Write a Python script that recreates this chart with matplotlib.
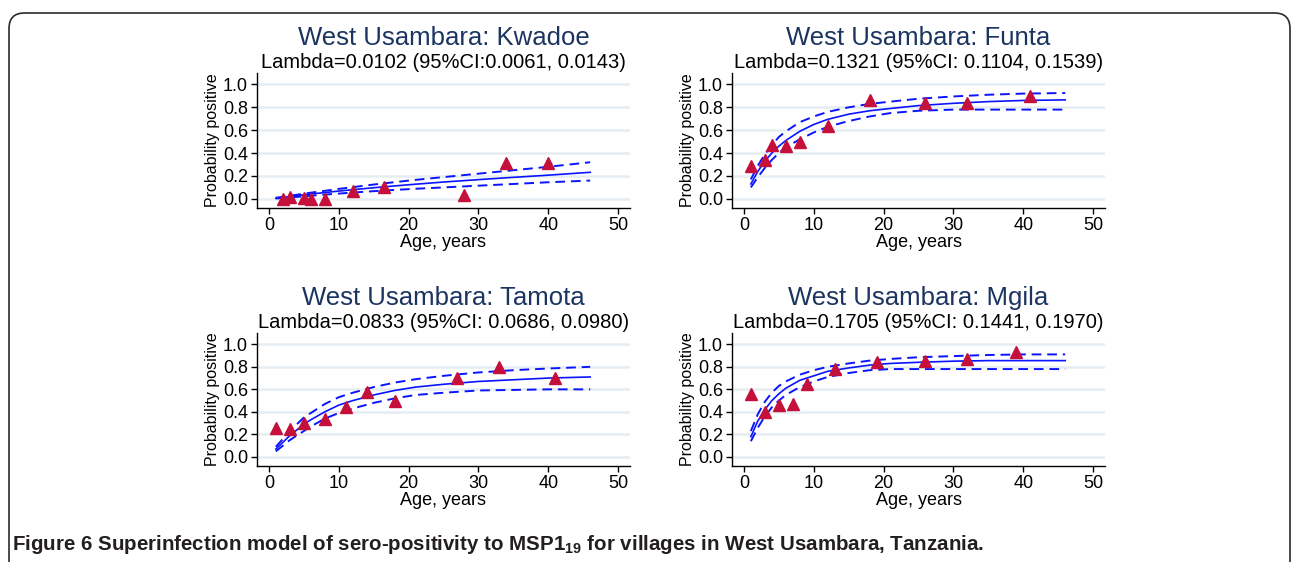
import matplotlib
matplotlib.use('Agg')
import matplotlib.pyplot as plt
from matplotlib.patches import FancyBboxPatch

plt.rcParams['font.family'] = ['Liberation Sans', 'DejaVu Sans']
plt.rcParams['mathtext.fontset'] = 'custom'
plt.rcParams['mathtext.rm'] = 'Liberation Sans'
plt.rcParams['mathtext.bf'] = 'Liberation Sans:bold'

W, H = 1293, 562

# observed points (age, proportion positive)
kw_age = [2, 3, 5, 6, 8, 12, 16.5, 28, 34, 40]
kw_pos = [0.00, 0.02, 0.01, 0.00, 0.00, 0.065, 0.10, 0.035, 0.31, 0.31]
fu_age = [1, 3, 4, 6, 8, 12, 18, 26, 32, 41]
fu_pos = [0.29, 0.34, 0.47, 0.46, 0.50, 0.64, 0.865, 0.84, 0.84, 0.90]
ta_age = [1, 3, 5, 8, 11, 14, 18, 27, 33, 41]
ta_pos = [0.26, 0.25, 0.30, 0.34, 0.44, 0.58, 0.50, 0.70, 0.80, 0.70]
mg_age = [1, 3, 5, 7, 9, 13, 19, 26, 32, 39]
mg_pos = [0.56, 0.40, 0.46, 0.47, 0.65, 0.78, 0.84, 0.855, 0.87, 0.935]

# fitted curve and 95% CI
fit_age = [1, 2, 3, 4, 5, 6, 8, 10, 12, 15, 18, 21, 25, 30, 35, 40, 46]
kw_fit = [0.005, 0.012, 0.02, 0.028, 0.035, 0.042, 0.055, 0.068, 0.08, 0.097, 0.113, 0.128, 0.147, 0.168, 0.188, 0.207, 0.232]
kw_hi = [0.01, 0.018, 0.027, 0.036, 0.045, 0.054, 0.07, 0.087, 0.102, 0.125, 0.146, 0.166, 0.19, 0.22, 0.25, 0.28, 0.32]
kw_lo = [0.003, 0.007, 0.012, 0.017, 0.022, 0.027, 0.037, 0.046, 0.055, 0.067, 0.078, 0.088, 0.1, 0.115, 0.13, 0.145, 0.16]
fu_fit = [0.13, 0.24, 0.33, 0.40, 0.46, 0.51, 0.59, 0.65, 0.695, 0.74, 0.77, 0.79, 0.815, 0.835, 0.85, 0.86, 0.865]
fu_hi = [0.17, 0.29, 0.39, 0.47, 0.54, 0.59, 0.67, 0.72, 0.76, 0.80, 0.83, 0.85, 0.875, 0.895, 0.91, 0.92, 0.925]
fu_lo = [0.10, 0.19, 0.27, 0.34, 0.40, 0.45, 0.52, 0.58, 0.63, 0.68, 0.72, 0.75, 0.77, 0.78, 0.78, 0.78, 0.78]
ta_fit = [0.07, 0.13, 0.19, 0.24, 0.29, 0.33, 0.40, 0.46, 0.50, 0.55, 0.59, 0.62, 0.645, 0.67, 0.685, 0.70, 0.71]
ta_hi = [0.09, 0.16, 0.23, 0.29, 0.35, 0.39, 0.47, 0.53, 0.57, 0.62, 0.66, 0.69, 0.72, 0.75, 0.77, 0.785, 0.80]
ta_lo = [0.05, 0.10, 0.15, 0.19, 0.23, 0.27, 0.34, 0.39, 0.43, 0.48, 0.52, 0.55, 0.57, 0.59, 0.595, 0.60, 0.60]
mg_fit = [0.18, 0.32, 0.42, 0.50, 0.56, 0.61, 0.68, 0.72, 0.76, 0.79, 0.815, 0.83, 0.84, 0.85, 0.855, 0.855, 0.855]
mg_hi = [0.23, 0.38, 0.49, 0.57, 0.63, 0.67, 0.73, 0.77, 0.80, 0.83, 0.855, 0.87, 0.885, 0.895, 0.905, 0.91, 0.91]
mg_lo = [0.14, 0.26, 0.36, 0.44, 0.50, 0.55, 0.62, 0.67, 0.71, 0.745, 0.77, 0.78, 0.78, 0.78, 0.78, 0.78, 0.78]

titles = ['West Usambara: Kwadoe', 'West Usambara: Funta',
          'West Usambara: Tamota', 'West Usambara: Mgila']
subtitles = ['Lambda=0.0102 (95%CI:0.0061, 0.0143)',
             'Lambda=0.1321 (95%CI: 0.1104, 0.1539)',
             'Lambda=0.0833 (95%CI: 0.0686, 0.0980)',
             'Lambda=0.1705 (95%CI: 0.1441, 0.1970)']
panels = [(kw_age, kw_pos, kw_fit, kw_hi, kw_lo),
          (fu_age, fu_pos, fu_fit, fu_hi, fu_lo),
          (ta_age, ta_pos, ta_fit, ta_hi, ta_lo),
          (mg_age, mg_pos, mg_fit, mg_hi, mg_lo)]
xticks = [0, 10, 20, 30, 40, 50]
yticks = [0.0, 0.2, 0.4, 0.6, 0.8, 1.0]

# axes boxes in pixels: left, right, top, bottom
boxes = [(257, 630, 73, 208), (732, 1105, 73, 208),
         (257, 630, 333, 466), (732, 1105, 333, 466)]

title_col = '#1c3461'
line_col = '#0a14ff'
mark_col = '#c4103b'

fig = plt.figure(figsize=(W / 100, H / 100), dpi=100)

for i in range(4):
    l, r, t, b = boxes[i]
    ax = fig.add_axes([l / W, (H - b) / H, (r - l) / W, (b - t) / H])
    age, pos, fit, hi, lo = panels[i]
    ax.plot(fit_age, hi, color=line_col, lw=1.4, dashes=(5, 3))
    ax.plot(fit_age, lo, color=line_col, lw=1.4, dashes=(5, 3))
    ax.plot(fit_age, fit, color=line_col, lw=1.2)
    ax.plot(age, pos, '^', color=mark_col, ms=8.5, mec=mark_col, zorder=5)
    ax.set_xlim(-1.7, 51.7)
    ax.set_ylim(-0.08, 1.1)
    ax.set_xticks(xticks)
    ax.set_yticks(yticks)
    ax.set_yticklabels(['%.1f' % v for v in yticks])
    ax.grid(axis='y', color='#e6edf2', lw=1.8)
    ax.set_axisbelow(True)
    for s in ['top', 'right']:
        ax.spines[s].set_visible(False)
    for s in ['left', 'bottom']:
        ax.spines[s].set_linewidth(1.0)
    ax.tick_params(labelsize=13, length=4.5, width=1.0, pad=2)
    ax.set_xlabel('Age, years', fontsize=13, labelpad=0)
    ax.set_ylabel('Probability positive', fontsize=11.5, labelpad=2)
    cx = (l + r) / 2 / W
    fig.text(cx, 1 - (t - 35) / H, titles[i], ha='center', va='center',
             fontsize=18.5, color=title_col)
    fig.text(cx, 1 - (t - 10) / H, subtitles[i], ha='center', va='center',
             fontsize=14.5, color='black')

# rounded frame of the journal figure
frame = FancyBboxPatch((9 / W, -0.2), (1290 - 9) / W, (H - 13) / H + 0.2,
                       boxstyle='round,pad=0,rounding_size=0.012',
                       transform=fig.transFigure, fill=False,
                       ec='#2b2b2b', lw=1.2, mutation_aspect=W / H)
fig.patches.append(frame)

fig.text(12 / W, 1 - 544 / H,
         r'Figure 6 Superinfection model of sero-positivity to MSP1$_{\mathbf{19}}$ for villages in West Usambara, Tanzania.',
         ha='left', va='center', fontsize=14.8, fontweight='bold', color='#231f20')

fig.savefig('out.png', dpi=100)
plt.close(fig)
